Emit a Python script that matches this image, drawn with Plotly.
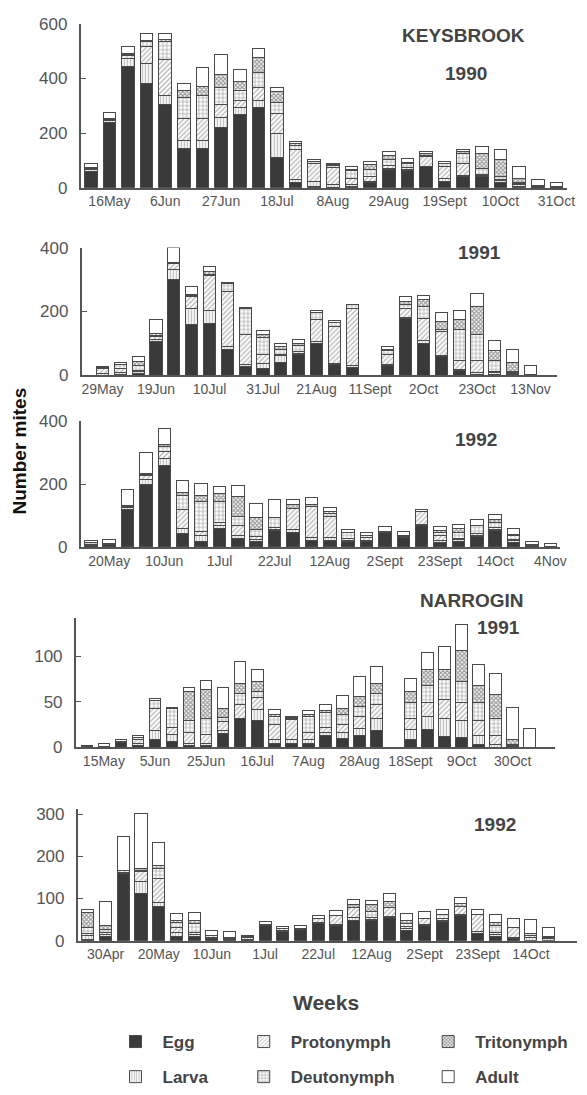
import plotly.graph_objects as go

W, H = 587, 1095

STAGES = ["Egg", "Larva", "Protonymph", "Deutonymph", "Tritonymph", "Adult"]

# ---------------- KEYSBROOK 1990 ----------------
kb90_ticks = ["16May", "6Jun", "27Jun", "18Jul", "8Aug", "29Aug", "19Sept", "10Oct", "31Oct"]
kb90_egg   = [60, 240, 442, 383, 304, 142, 142, 222, 266, 292, 112, 20, 3, 2, 5, 18, 66, 64, 76, 24, 40, 40, 20, 5, 2, 1]
kb90_larva = [5, 5, 30, 73, 32, 32, 32, 36, 28, 26, 86, 10, 20, 10, 8, 5, 5, 3, 3, 10, 5, 5, 5, 5, 2, 1]
kb90_proto = [5, 5, 10, 60, 132, 78, 78, 48, 24, 48, 72, 108, 65, 62, 20, 19, 10, 8, 35, 44, 45, 5, 5, 5, 2, 1]
kb90_deuto = [3, 0, 5, 18, 66, 78, 84, 60, 36, 54, 42, 18, 6, 6, 30, 24, 22, 15, 5, 10, 36, 22, 12, 5, 2, 1]
kb90_trito = [2, 2, 5, 6, 10, 24, 36, 48, 36, 56, 40, 6, 3, 4, 5, 18, 15, 2, 7, 0, 6, 54, 60, 12, 0, 0]
kb90_adult = [13, 24, 24, 26, 22, 26, 66, 72, 44, 32, 14, 8, 5, 6, 8, 12, 16, 15, 8, 8, 8, 26, 38, 46, 22, 14]

# ---------------- KEYSBROOK 1991 ----------------
kb91_ticks = ["29May", "19Jun", "10Jul", "31Jul", "21Aug", "11Sept", "2Oct", "23Oct", "13Nov"]
kb91_egg   = [0, 2, 5, 107, 300, 159, 162, 79, 28, 22, 40, 64, 100, 33, 25, None, 30, 177, 99, 58, 14, 3, 3, 2, 0]
kb91_larva = [5, 5, 5, 5, 30, 51, 40, 10, 5, 14, 21, 5, 5, 5, 5, None, 5, 5, 10, 5, 5, 5, 5, 3, 2]
kb91_proto = [15, 15, 5, 8, 20, 36, 110, 173, 95, 30, 5, 5, 69, 116, 180, None, 31, 28, 70, 75, 28, 37, 5, 3, 0]
kb91_deuto = [3, 10, 15, 5, 0, 4, 4, 25, 82, 51, 15, 18, 21, 10, 10, None, 10, 12, 36, 5, 96, 83, 32, 5, 0]
kb91_trito = [0, 0, 13, 5, 3, 4, 10, 0, 0, 11, 8, 8, 0, 0, 0, None, 5, 9, 21, 26, 31, 87, 31, 27, 0]
kb91_adult = [4, 8, 15, 46, 47, 25, 15, 5, 2, 13, 10, 12, 8, 7, 2, None, 9, 17, 13, 26, 28, 40, 33, 39, 28]

# ---------------- KEYSBROOK 1992 ----------------
kb92_ticks = ["20May", "10Jun", "1Jul", "22Jul", "12Aug", "2Sept", "23Sept", "14Oct", "4Nov"]
kb92_egg   = [2, 8, 120, 200, 260, 43, 18, 59, 26, 18, 52, 46, 21, 21, 18, 18, 46, 31, 67, 15, 18, 33, 51, 15, 2, 1]
kb92_larva = [3, 2, 5, 15, 23, 15, 20, 10, 10, 5, 5, 10, 10, 10, 3, 3, 2, 2, 5, 5, 5, 5, 5, 5, 2, 1]
kb92_proto = [2, 2, 5, 12, 21, 60, 10, 10, 31, 10, 5, 68, 98, 67, 5, 10, 2, 2, 41, 16, 5, 5, 5, 5, 2, 1]
kb92_deuto = [8, 0, 3, 5, 16, 47, 96, 65, 31, 24, 31, 0, 0, 10, 20, 7, 0, 0, 0, 10, 18, 24, 18, 11, 3, 0]
kb92_trito = [0, 0, 0, 3, 5, 10, 21, 26, 62, 36, 0, 10, 5, 5, 0, 0, 0, 0, 0, 5, 13, 2, 9, 5, 0, 0]
kb92_adult = [5, 12, 50, 65, 51, 36, 36, 23, 36, 46, 59, 18, 23, 13, 9, 8, 15, 14, 7, 14, 13, 18, 17, 18, 9, 7]

# ---------------- NARROGIN 1991 ----------------
nr91_ticks = ["15May", "5Jun", "25Jun", "16Jul", "7Aug", "28Aug", "18Sept", "9Oct", "30Oct"]
nr91_egg   = [1, 1, 5, 2, 8, 6, 2, 2, 15, 32, 29, 4, 4, 4, 13, 10, 13, 18, None, 8, 19, 12, 11, 3, 0, 0, 0]
nr91_larva = [0, 0, 0, 2, 10, 8, 2, 2, 3, 0, 12, 5, 5, 4, 3, 6, 8, 14, None, 12, 15, 20, 18, 10, 3, 1, 0]
nr91_proto = [0, 0, 1, 5, 25, 8, 12, 10, 10, 15, 13, 16, 21, 8, 6, 9, 13, 15, None, 11, 15, 20, 20, 16, 10, 1, 0]
nr91_deuto = [0, 0, 0, 2, 8, 21, 13, 18, 5, 12, 7, 9, 2, 18, 16, 11, 11, 12, None, 18, 19, 22, 23, 20, 18, 1, 0]
nr91_trito = [0, 0, 0, 0, 0, 0, 32, 31, 9, 11, 11, 2, 1, 2, 2, 7, 11, 11, None, 12, 17, 11, 34, 19, 27, 6, 0]
nr91_adult = [1, 3, 2, 2, 2, 1, 4, 10, 23, 24, 13, 5, 1, 4, 7, 14, 22, 18, None, 14, 19, 25, 28, 23, 23, 35, 21]

# ---------------- NARROGIN 1992 ----------------
nr92_ticks = ["30Apr", "20May", "10Jun", "1Jul", "22Jul", "12Aug", "2Sept", "23Sept", "14Oct"]
nr92_egg   = [2, 9, 159, 113, 82, 9, 9, 5, 2, 3, 36, 21, 26, 40, 36, 49, 48, 55, 25, 36, 45, 59, 17, 9, 5, 0, 0]
nr92_larva = [10, 6, 3, 27, 8, 10, 5, 3, 3, 5, 0, 2, 2, 2, 3, 5, 3, 3, 3, 3, 3, 3, 5, 5, 3, 8, 5]
nr92_proto = [5, 5, 5, 23, 58, 13, 5, 4, 3, 2, 2, 5, 2, 10, 20, 24, 5, 20, 5, 13, 5, 20, 41, 5, 23, 5, 2]
nr92_deuto = [15, 6, 0, 3, 23, 12, 21, 0, 0, 0, 0, 0, 0, 0, 0, 0, 13, 0, 7, 0, 10, 0, 0, 17, 0, 4, 2]
nr92_trito = [35, 10, 0, 5, 8, 4, 8, 0, 0, 0, 0, 0, 0, 0, 0, 8, 17, 16, 8, 0, 0, 6, 0, 8, 0, 0, 0]
nr92_adult = [8, 56, 79, 131, 55, 17, 19, 13, 13, 2, 7, 6, 7, 7, 13, 12, 9, 18, 17, 17, 10, 15, 10, 19, 22, 33, 23]

# ---------------- layout geometry (pixels) ----------------
panels = [
    dict(data=[kb90_egg, kb90_larva, kb90_proto, kb90_deuto, kb90_trito, kb90_adult],
         ticks=kb90_ticks, tick0=1, px=(82, 575), py=(15, 182), yr=600, ytv=[0, 200, 400, 600],
         xr=(-0.53, 25.58)),
    dict(data=[kb91_egg, kb91_larva, kb91_proto, kb91_deuto, kb91_trito, kb91_adult],
         ticks=kb91_ticks, tick0=0, px=(83, 565), py=(243, 373), yr=400, ytv=[0, 200, 400],
         xr=(-1.16, 25.5)),
    dict(data=[kb92_egg, kb92_larva, kb92_proto, kb92_deuto, kb92_trito, kb92_adult],
         ticks=kb92_ticks, tick0=1, px=(82, 568), py=(420, 548), yr=400, ytv=[0, 200, 400],
         xr=(-0.54, 25.54)),
    dict(data=[nr91_egg, nr91_larva, nr91_proto, nr91_deuto, nr91_trito, nr91_adult],
         ticks=nr91_ticks, tick0=1, px=(77, 563), py=(620, 752), yr=142, ytv=[0, 50, 100],
         xr=(-0.64, 27.5)),
    dict(data=[nr92_egg, nr92_larva, nr92_proto, nr92_deuto, nr92_trito, nr92_adult],
         ticks=nr92_ticks, tick0=1, px=(79, 585), py=(815, 949), yr=312, ytv=[0, 100, 200, 300],
         xr=(-0.56, 27.6)),
]

LINE = "#4a4a4a"
styles = {
    "Egg": dict(color="#3a3a3a"),
    "Larva": dict(color="white", pattern=dict(shape="|", fgcolor="#808080", bgcolor="white", size=3, solidity=0.45)),
    "Protonymph": dict(color="white", pattern=dict(shape="/", fgcolor="#606060", bgcolor="white", size=3.5, solidity=0.35)),
    "Deutonymph": dict(color="white", pattern=dict(shape="+", fgcolor="#505050", bgcolor="white", size=4, solidity=0.35)),
    "Tritonymph": dict(color="white", pattern=dict(shape="x", fgcolor="#3a3a3a", bgcolor="white", size=3, solidity=0.65)),
    "Adult": dict(color="white"),
}
legend_of = {"Egg": "legend", "Larva": "legend", "Protonymph": "legend2",
             "Deutonymph": "legend2", "Tritonymph": "legend3", "Adult": "legend3"}

FONT = "Liberation Sans, Arial, sans-serif"
fig = go.Figure()
layout = {}

for i, p in enumerate(panels):
    sfx = "" if i == 0 else str(i + 1)
    n = len(p["data"][0])
    xs = list(range(n))
    for s, vals in zip(STAGES, p["data"]):
        st = styles[s]
        marker = dict(color=st["color"], line=dict(color=LINE, width=1))
        if "pattern" in st:
            marker["pattern"] = st["pattern"]
        fig.add_trace(go.Bar(
            x=xs, y=vals, name=s, marker=marker, width=0.68,
            xaxis="x" + sfx, yaxis="y" + sfx,
            showlegend=(i == 0), legend=legend_of[s], legendgroup=s,
        ))
    tv = list(range(p["tick0"], n, 3))[:len(p["ticks"])]
    layout["xaxis" + sfx] = dict(
        domain=[p["px"][0] / W, p["px"][1] / W], range=list(p["xr"]), anchor="y" + sfx,
        tickvals=tv, ticktext=p["ticks"], showline=True, linecolor="#555", linewidth=2,
        ticks="", showgrid=False, zeroline=False, fixedrange=True,
        tickfont=dict(family=FONT, size=14, color="#555"),
    )
    layout["yaxis" + sfx] = dict(
        domain=[1 - p["py"][1] / H, 1 - p["py"][0] / H], range=[0, p["yr"]], anchor="x" + sfx,
        tickvals=p["ytv"], showline=True, linecolor="#555", linewidth=2,
        ticks="inside", ticklen=5, tickcolor="#555", showgrid=False, zeroline=False,
        ticklabelstandoff=8, tickfont=dict(family=FONT, size=17, color="#555"),
    )

def ann(text, x, y, size, color="#444", angle=0):
    return dict(text=text, x=x / W, y=1 - y / H, xref="paper", yref="paper",
                showarrow=False, textangle=angle, xanchor="center", yanchor="middle",
                font=dict(family=FONT, size=size, color=color, weight="bold"))

annotations = [
    ann("KEYSBROOK", 470, 27, 19),
    ann("1990", 472, 66, 19),
    ann("1991", 486, 248, 19),
    ann("1992", 483, 439, 19),
    ann("NARROGIN", 478, 602, 19),
    ann("1991", 505, 630, 19),
    ann("1992", 502, 831, 19),
    ann("Number mites", 20, 450, 19, color="#111", angle=-90),
    ann("Weeks", 331, 1012, 21),
]

legfont = dict(family=FONT, size=17, color="#444", weight="bold")
def leg(xpx):
    return dict(x=xpx / W, y=1 - 1034 / H, xanchor="left", yanchor="top",
                orientation="v", font=legfont, tracegroupgap=10, itemwidth=44,
                bgcolor="rgba(0,0,0,0)",
                itemclick=False, itemdoubleclick=False, traceorder="grouped")

fig.update_layout(
    width=W, height=H, margin=dict(l=0, r=0, t=0, b=0),
    paper_bgcolor="white", plot_bgcolor="white",
    barmode="stack", annotations=annotations,
    legend=leg(110), legend2=leg(240), legend3=leg(427),
    **layout,
)

fig.write_html("out.html")
